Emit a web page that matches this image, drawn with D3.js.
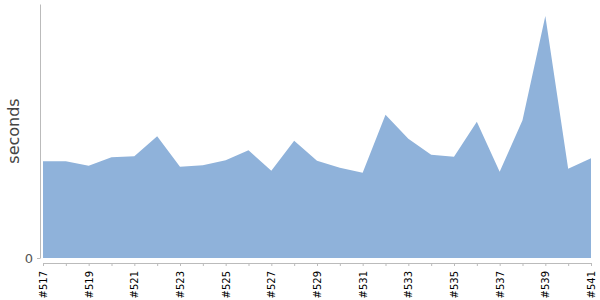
<!DOCTYPE html>
<html>
<head>
<meta charset="utf-8">
<script src="https://cdn.jsdelivr.net/npm/d3@7"></script>
<style>
  html, body { margin: 0; padding: 0; background: #fff; }
  svg { display: block; }
</style>
</head>
<body>
<svg id="chart" width="600" height="300"></svg>
<script>
const builds = ["#517","#518","#519","#520","#521","#522","#523","#524","#525","#526","#527","#528","#529","#530","#531","#532","#533","#534","#535","#536","#537","#538","#539","#540","#541"];
const seconds = [19.4,19.4,18.5,20.2,20.4,24.4,18.3,18.6,19.6,21.6,17.5,23.5,19.5,18.1,17.1,28.7,23.9,20.7,20.3,27.3,17.3,27.6,48.5,17.9,20.0];
const yTicks = [0];
const yTitle = "seconds";

const svg = d3.select("#chart");
const x = d3.scalePoint().domain(builds).range([43, 591]);
const y = d3.scaleLinear().domain([0, d3.max(seconds) * 1.05]).range([258, 4]);

const data = builds.map((b, i) => ({ b, v: seconds[i] }));

svg.append("path")
  .datum(data)
  .attr("fill", "#8fb2da")
  .attr("d", d3.area().x(d => x(d.b)).y0(y(0)).y1(d => y(d.v)));

// y axis
const ya = svg.append("g").attr("transform", "translate(40,0)")
  .call(d3.axisLeft(y).tickValues(yTicks).tickSize(3).tickPadding(4).tickSizeOuter(0));
ya.select(".domain").attr("stroke", "#bbb");
ya.selectAll(".tick line").attr("stroke", "#bbb");
ya.selectAll(".tick text").attr("font-family", "DejaVu Sans").attr("font-size", 13).attr("fill", "#555");

// x axis
const xa = svg.append("g").attr("transform", "translate(0,263)")
  .call(d3.axisBottom(x).tickSize(3).tickSizeOuter(0)
    .tickFormat((d, i) => i % 2 === 0 ? d : ""));
xa.select(".domain").attr("stroke", "#bbb");
xa.selectAll(".tick line").attr("stroke", "#bbb");
xa.selectAll(".tick text")
  .attr("font-family", "DejaVu Sans").attr("font-size", 10).attr("fill", "#000")
  .attr("transform", "rotate(-90)")
  .attr("text-anchor", "end")
  .attr("x", -8).attr("y", 0).attr("dy", "0.35em");

svg.append("text")
  .attr("transform", "translate(19,131) rotate(-90)")
  .attr("text-anchor", "middle")
  .attr("font-family", "DejaVu Sans")
  .attr("font-size", 16)
  .attr("fill", "#444")
  .text(yTitle);
</script>
</body>
</html>
